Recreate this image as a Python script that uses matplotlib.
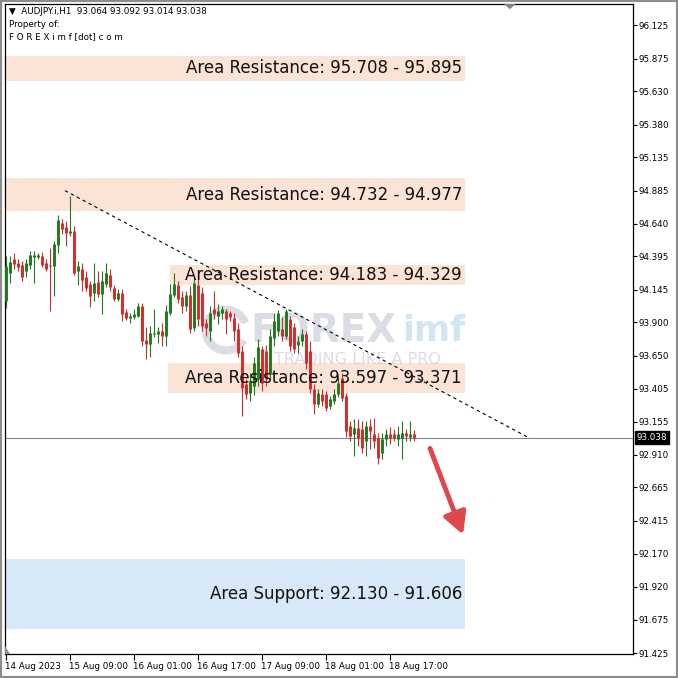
import numpy as np
import matplotlib
matplotlib.use("Agg")
import matplotlib.pyplot as plt
import matplotlib.transforms as mtransforms
from matplotlib.patches import Rectangle, Polygon, Wedge

# AUDJPY H1 candles (bar 0 = 14 Aug 17:00)
opens = [94.060, 94.270, 94.376, 94.346, 94.331, 94.285, 94.331, 94.391, 94.391, 94.398,
         94.346, 94.331, 94.323, 94.481, 94.646, 94.616, 94.571, 94.586, 94.285, 94.301,
         94.240, 94.188, 94.120, 94.203, 94.113, 94.188, 94.256, 94.158, 94.075, 94.120,
         93.978, 93.933, 93.940, 93.948, 94.023, 93.768, 93.738, 93.813, 93.813, 93.835,
         93.798, 93.970, 94.106, 94.181, 94.090, 94.023, 94.106, 93.858, 94.181, 94.120,
         93.895, 93.835, 94.000, 93.948, 93.970, 93.985, 93.970, 93.933, 93.850, 93.685,
         93.437, 93.370, 93.422, 93.475, 93.700, 93.685, 93.513, 93.783, 93.835, 93.850,
         93.798, 93.925, 93.865, 93.730, 93.760, 93.813, 93.685, 93.400, 93.287, 93.362,
         93.362, 93.272, 93.310, 93.362, 93.483, 93.347, 93.122, 93.062, 93.107, 93.100,
         93.009, 93.122, 93.062, 93.032, 92.919, 93.024, 93.062, 93.062, 93.024, 93.032,
         93.070, 93.040, 93.064]
highs = [94.398, 94.398, 94.421, 94.376, 94.361, 94.376, 94.436, 94.436, 94.421, 94.428,
         94.376, 94.458, 94.511, 94.706, 94.676, 94.661, 94.849, 94.624, 94.361, 94.346,
         94.285, 94.210, 94.346, 94.285, 94.285, 94.346, 94.301, 94.180, 94.150, 94.150,
         94.000, 93.970, 94.000, 94.046, 94.046, 93.865, 93.873, 94.000, 93.865, 93.895,
         94.031, 94.188, 94.270, 94.210, 94.135, 94.135, 94.173, 94.241, 94.226, 94.165,
         93.925, 94.023, 94.135, 94.038, 94.023, 94.000, 93.985, 93.970, 93.895, 93.723,
         93.475, 93.520, 93.640, 93.775, 93.723, 93.730, 93.850, 93.970, 93.993, 93.940,
         94.000, 93.948, 93.895, 93.798, 93.850, 93.835, 93.760, 93.437, 93.400, 93.400,
         93.385, 93.347, 93.400, 93.490, 93.520, 93.370, 93.160, 93.175, 93.175, 93.160,
         93.160, 93.175, 93.182, 93.070, 93.070, 93.100, 93.115, 93.100, 93.122, 93.160,
         93.100, 93.160, 93.092]
lows = [94.008, 94.195, 94.301, 94.285, 94.210, 94.240, 94.301, 94.195, 94.376, 94.316,
        94.285, 93.985, 94.098, 94.421, 94.563, 94.473, 94.548, 94.255, 94.180, 94.135,
        94.135, 94.015, 94.060, 94.090, 93.963, 94.165, 94.135, 94.060, 94.060, 93.910,
        93.918, 93.895, 93.925, 93.940, 93.723, 93.625, 93.640, 93.790, 93.745, 93.723,
        93.723, 93.955, 94.090, 94.046, 93.970, 93.985, 93.820, 93.835, 93.873, 93.835,
        93.798, 93.760, 93.925, 93.888, 93.925, 93.813, 93.910, 93.760, 93.640, 93.197,
        93.325, 93.310, 93.355, 93.422, 93.385, 93.422, 93.475, 93.723, 93.798, 93.760,
        93.775, 93.685, 93.670, 93.670, 93.723, 93.550, 93.370, 93.212, 93.265, 93.272,
        93.235, 93.250, 93.287, 93.340, 93.310, 93.040, 93.009, 92.897, 92.972, 92.920,
        92.897, 92.949, 92.957, 92.837, 92.874, 92.972, 92.987, 93.009, 92.972, 92.874,
        93.009, 93.009, 93.014]
closes = [94.323, 94.353, 94.338, 94.316, 94.240, 94.346, 94.406, 94.406, 94.406, 94.331,
          94.301, 94.323, 94.488, 94.669, 94.601, 94.571, 94.586, 94.270, 94.323, 94.218,
          94.158, 94.098, 94.195, 94.113, 94.210, 94.270, 94.165, 94.075, 94.120, 93.963,
          93.933, 93.948, 93.963, 94.023, 93.760, 93.738, 93.820, 93.820, 93.835, 93.798,
          93.985, 94.113, 94.188, 94.075, 94.023, 94.106, 93.850, 94.195, 93.925, 93.873,
          93.858, 93.970, 93.963, 93.985, 94.000, 93.925, 93.940, 93.835, 93.670, 93.407,
          93.362, 93.460, 93.595, 93.715, 93.445, 93.475, 93.798, 93.910, 93.970, 93.798,
          93.985, 93.723, 93.700, 93.760, 93.813, 93.595, 93.400, 93.287, 93.370, 93.310,
          93.257, 93.325, 93.362, 93.445, 93.332, 93.085, 93.047, 93.107, 93.032, 92.957,
          93.122, 93.085, 93.009, 92.882, 93.024, 93.062, 93.032, 93.032, 93.062, 93.070,
          93.047, 93.062, 93.038]

last_price = 93.038
time_labels = ["14 Aug 2023", "15 Aug 09:00", "16 Aug 01:00", "16 Aug 17:00",
               "17 Aug 09:00", "18 Aug 01:00", "18 Aug 17:00"]
time_label_bars = [0, 16, 32, 48, 64, 80, 96]
price_ticks = [96.125, 95.875, 95.630, 95.380, 95.135, 94.885, 94.640, 94.395, 94.145,
               93.900, 93.650, 93.405, 93.155, 92.910, 92.665, 92.415, 92.170, 91.920,
               91.675, 91.425]

# zones: (low, high, label)
resistance_zones = [(95.708, 95.895, "Area Resistance: 95.708 - 95.895"),
                    (94.732, 94.977, "Area Resistance: 94.732 - 94.977"),
                    (94.183, 94.329, "Area Resistance: 94.183 - 94.329"),
                    (93.371, 93.597, "Area Resistance: 93.597 - 93.371")]
support_zone = (91.606, 92.130, "Area Support: 92.130 - 91.606")
zone_starts = [-0.25, -0.25, 41.0, 40.5]

# trend line & projection arrow (bar, price)
trend_pts = [(14.75, 94.886), (131.0, 93.032)]
arrow_pts = [(106.0, 92.957), (114.25, 92.311)]

green = "#1f7a1f"
red = "#d42a2a"

fig = plt.figure(figsize=(6.78, 6.78), dpi=100)
fig.patch.set_facecolor("white")
ax = fig.add_axes([5 / 678, 1 - 654 / 678, 628 / 678, 650 / 678])
ax.set_facecolor("white")

# zones
for (lo, hi, txt), x0 in zip(resistance_zones, zone_starts):
    ax.add_patch(Rectangle((x0, lo), 114.75 - x0, hi - lo, facecolor="#fbe3d6",
                           edgecolor="none", zorder=1))
lo, hi, txt = support_zone
ax.add_patch(Rectangle((-0.25, lo), 115.0, hi - lo, facecolor="#d7e9f8",
                       edgecolor="none", zorder=1))

# watermark (logo ring drawn in figure coords so it stays round)
ax.add_patch(Wedge((226 / 678, 1 - 330 / 678), 0.036, 20, 330, width=0.012,
                   transform=fig.transFigure, facecolor="#9aa0b4", alpha=0.35,
                   edgecolor="none", zorder=1.5))
ax.text(61, 93.835, "FOREX", fontsize=28, fontweight="bold", color="#9aa0b4", alpha=0.35,
        ha="left", va="center", zorder=1.5)
ax.text(99, 93.835, "imf", fontsize=25, fontweight="bold", color="#9cc7e6", alpha=0.45,
        ha="left", va="center", zorder=1.5)
ax.text(67, 93.62, "TRADING LIKE A PRO", fontsize=11.5, color="#b0b4c4", alpha=0.45,
        ha="left", va="center", zorder=1.5)

# current price line
ax.axhline(last_price, color="#7f8a99", lw=0.8, zorder=2)

# candles: wick 1px, body 3px wide
idx = np.arange(len(opens))
o = np.array(opens); h = np.array(highs); l = np.array(lows); c = np.array(closes)
cols = [green if cc >= oo else red for oo, cc in zip(o, c)]
ax.vlines(idx, l, h, colors=cols, lw=0.8, zorder=3)
body_lo = np.minimum(o, c)
body_hi = np.maximum(np.maximum(o, c), body_lo + 0.008)
ax.vlines(idx, body_lo, body_hi, colors=cols, lw=2.1, capstyle="butt", zorder=4)

# trend line
ax.plot([trend_pts[0][0], trend_pts[1][0]], [trend_pts[0][1], trend_pts[1][1]],
        color="black", lw=0.8, ls=(0, (3, 3)), zorder=5)

# zone texts
for lo, hi, txt in resistance_zones + [support_zone]:
    ax.text(114.0, (lo + hi) / 2, txt, fontsize=12, ha="right", va="center",
            color="#111111", zorder=6)

# arrow
ax.annotate("", xy=arrow_pts[1], xytext=arrow_pts[0],
            arrowprops=dict(arrowstyle="-|>,head_length=1.3,head_width=0.7",
                            color="#e0474c", lw=3.5, shrinkA=0, shrinkB=0), zorder=6)

ax.set_xlim(-0.25, 156.75)
ax.set_ylim(91.418, 96.283)

ax.yaxis.tick_right()
ax.set_yticks(price_ticks)
ax.set_yticklabels([f"{p:.3f}" for p in price_ticks])
ax.tick_params(axis="y", direction="out", length=3, width=0.8, labelsize=6.3, pad=1,
               colors="black")
ax.set_xticks(time_label_bars)
ax.set_xticklabels(time_labels)
ax.tick_params(axis="x", direction="out", length=4, width=0.8, labelsize=6.3, pad=2)
offset = mtransforms.ScaledTranslation(-1 / 100, 0, fig.dpi_scale_trans)
for lab in ax.get_xticklabels():
    lab.set_ha("left")
    lab.set_transform(lab.get_transform() + offset)
for sp in ax.spines.values():
    sp.set_color("black")
    sp.set_linewidth(0.9)

# last price box
trans = mtransforms.blended_transform_factory(ax.transAxes, ax.transData)
ax.text(1.006, last_price, f"{last_price:.3f}", transform=trans, fontsize=6.3,
        color="white", ha="left", va="center",
        bbox=dict(boxstyle="square,pad=0.2", facecolor="black", edgecolor="black"),
        zorder=10, clip_on=False)

# chart shift markers
ax.add_patch(Polygon([[0.795, 1.0], [0.813, 1.0], [0.804, 0.992]], closed=True,
                     transform=ax.transAxes, facecolor="#7d8590", edgecolor="none",
                     clip_on=False, zorder=10))
ax.add_patch(Polygon([[0.0, 0.0], [0.0, 0.012], [0.008, 0.0]], closed=True,
                     transform=ax.transAxes, facecolor="#8a8f98", edgecolor="none",
                     clip_on=False, zorder=10))

# header
ax.text(0.006, 0.995, "\u25bc  AUDJPY.i,H1  93.064 93.092 93.014 93.038", transform=ax.transAxes,
        fontsize=6.3, ha="left", va="top", zorder=10)
ax.text(0.006, 0.976, "Property of:", transform=ax.transAxes, fontsize=6.3,
        ha="left", va="top", zorder=10)
ax.text(0.006, 0.956, "F O R E X i m f [dot] c o m", transform=ax.transAxes, fontsize=6.3,
        ha="left", va="top", zorder=10)

# window frame
fig.patches.append(Rectangle((0, 0), 1, 1, transform=fig.transFigure, fill=False,
                             edgecolor="#8c8c8c", lw=3))

fig.savefig("out.png", dpi=100)
